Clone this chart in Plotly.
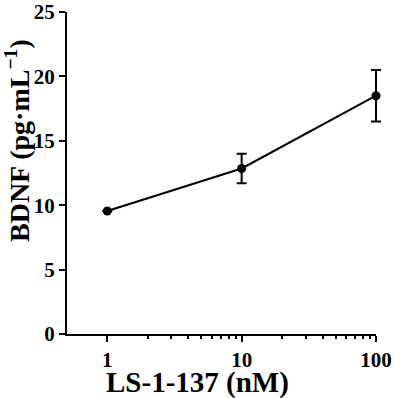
import plotly.graph_objects as go

concentration_nM = [1, 10, 100]
bdnf_mean = [9.55, 12.85, 18.5]
bdnf_err = [0.0, 1.15, 2.0]
x_tick_vals = [1, 10, 100]
x_tick_text = ["1", "10", "100"]
y_tick_vals = [0, 5, 10, 15, 20, 25]

FONT = "Liberation Serif"
W, H = 394, 398
L, R, T, B = 67, 8, 12, 64
AXIS_END = 376  # pixel where the visible x axis ends
X_RANGE = [-0.3, 2.0]
plot_w = W - L - R
main_frac = (AXIS_END - L) / plot_w
# second (hidden) x axis spanning the full plot width with the same scale
x2_end = X_RANGE[0] + (X_RANGE[1] - X_RANGE[0]) / main_frac

fig = go.Figure()
# invisible trace so the main (visible) axes subplot is created
fig.add_trace(go.Scatter(
    x=concentration_nM, y=bdnf_mean, xaxis="x", yaxis="y",
    mode="markers", marker=dict(opacity=0, size=1),
    hoverinfo="skip", showlegend=False,
))
fig.add_trace(go.Scatter(
    x=concentration_nM, y=bdnf_mean,
    xaxis="x2", yaxis="y",
    mode="lines+markers",
    line=dict(color="black", width=2),
    marker=dict(color="black", size=9, symbol="circle"),
    error_y=dict(type="data", array=bdnf_err, visible=True,
                 color="black", thickness=2, width=5),
    showlegend=False,
    cliponaxis=False,
))

minor_vals = [m * d for d in (1, 10) for m in range(2, 10)]

fig.update_layout(
    width=W, height=H,
    margin=dict(l=L, r=R, t=T, b=B, autoexpand=False),
    plot_bgcolor="rgba(0,0,0,0)", paper_bgcolor="white",
    font=dict(family=FONT, color="black", size=21, weight="bold"),
    xaxis=dict(
        type="log", range=X_RANGE, automargin=False,
        domain=[0, main_frac],
        tickvals=x_tick_vals, ticktext=x_tick_text,
        ticks="outside", ticklen=6, tickwidth=2, tickcolor="black",
        showline=True, linecolor="black", linewidth=2,
        showgrid=False, zeroline=False,
        tickfont=dict(family=FONT, size=21, color="black", weight="bold"),
        minor=dict(tickvals=minor_vals, ticks="outside", ticklen=3,
                   tickwidth=2, tickcolor="black", showgrid=False),
    ),
    xaxis2=dict(
        type="log", range=[X_RANGE[0], x2_end], automargin=False,
        domain=[0, 1], anchor="y",
        visible=False, showgrid=False, zeroline=False,
    ),
    yaxis=dict(
        range=[0, 25], tickvals=y_tick_vals, automargin=False,
        anchor="x",
        ticks="outside", ticklen=6, tickwidth=2, tickcolor="black",
        showline=True, linecolor="black", linewidth=2,
        showgrid=False, zeroline=False,
        tickfont=dict(family=FONT, size=21, color="black", weight="bold"),
    ),
    annotations=[
        dict(text="LS-1-137 (nM)", xref="paper", yref="paper",
             x=(197 - L) / plot_w, y=(334 - 382) / (H - T - B),
             xanchor="center", yanchor="middle", showarrow=False,
             font=dict(family=FONT, size=29, color="black", weight="bold")),
        dict(text="BDNF (pg·mL<sup>−1</sup>)", xref="paper", yref="paper",
             x=(17 - L) / plot_w, y=(334 - 141) / (H - T - B), textangle=-90,
             xanchor="center", yanchor="middle", showarrow=False,
             font=dict(family=FONT, size=28, color="black", weight="bold")),
    ],
)

fig.write_html("out.html",
               config={"displayModeBar": False},
               post_script="document.body.style.margin='0';document.body.style.padding='0';")
